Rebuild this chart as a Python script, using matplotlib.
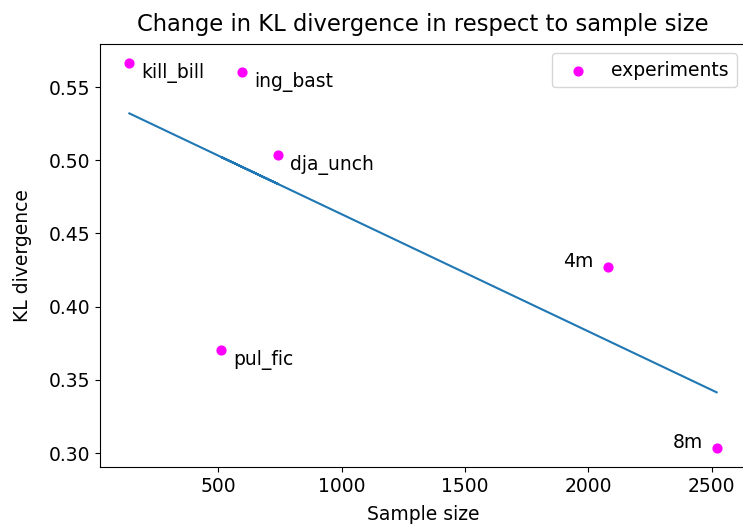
import numpy as np
import matplotlib
matplotlib.use("Agg")
import matplotlib.pyplot as plt

# experiments: sample size vs. KL divergence
names = ["kill_bill", "ing_bast", "dja_unch", "pul_fic", "4m", "8m"]
sample_size = [140, 596, 744, 512, 2078, 2520]
kl_div = [0.5663, 0.5605, 0.5038, 0.3705, 0.4271, 0.3036]

x = np.array(sample_size)
y = np.array(kl_div)
slope, intercept = np.polyfit(x, y, 1)

plt.rcParams["font.size"] = 13.5

fig = plt.figure(figsize=(7.43, 5.24), dpi=100)
ax = fig.add_axes([100 / 743, 57 / 524, 646 / 743, 423 / 524])

ax.scatter(x, y, color="magenta", s=40, label="experiments")
ax.plot(x, slope * x + intercept, color="#1f77b4")

for n, xi, yi in zip(names, x, y):
    if xi > 2000:
        ax.annotate(n, (xi, yi), xytext=(-14, 0), textcoords="offset pixels",
                    ha="right", va="baseline")
    else:
        ax.annotate(n, (xi, yi), xytext=(12, 0), textcoords="offset pixels",
                    ha="left", va="top")

ax.set_title("Change in KL divergence in respect to sample size",
             fontsize=16.3, pad=9)
ax.set_xlabel("Sample size", labelpad=7)
ax.set_ylabel("KL divergence", labelpad=12)
ax.set_yticks([0.30, 0.35, 0.40, 0.45, 0.50, 0.55])
ax.spines["right"].set_visible(False)
ax.legend(loc="upper right")

fig.savefig("out.png", dpi=100)
